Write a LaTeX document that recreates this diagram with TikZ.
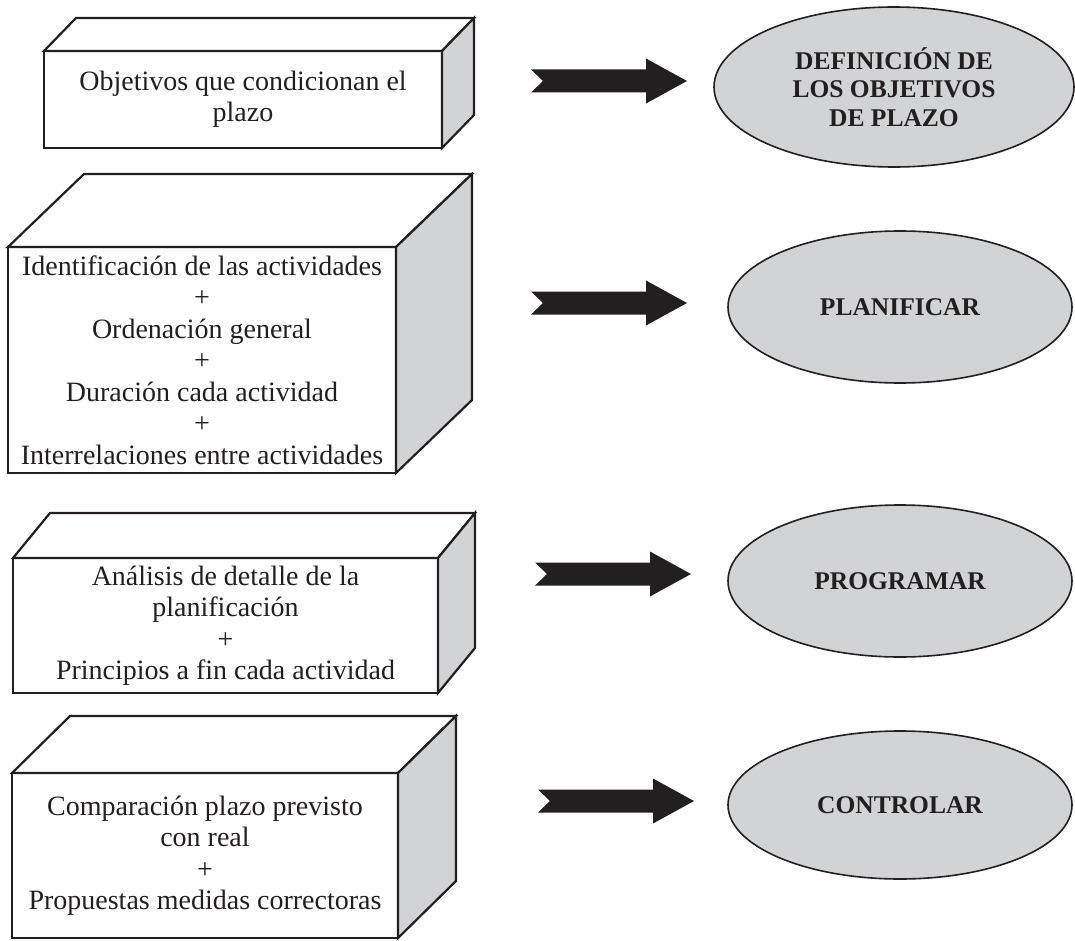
\documentclass[tikz,border=0pt]{standalone}
\usepackage{fontspec}
\setmainfont{Liberation Serif}
\usetikzlibrary{shapes.geometric}
\definecolor{facegray}{RGB}{209,211,212}
\definecolor{inkblack}{RGB}{35,31,32}

% a box drawn in perspective: front face (a node holding the text),
% white top face and grey right-hand face
% #1 name, #2 #3 centre of front face, #4 width, #5 height,
% #6 #7 depth offset (right, up), #8 text
\newcommand{\perspbox}[8]{%
  \node[front, minimum width=#4pt, minimum height=#5pt] (#1) at (#2,#3) {#8};
  \draw[edge, fill=white] (#1.north west) -- ++(#6,-#7) -- ++(#4,0) -- (#1.north east) -- cycle;
  \draw[edge, fill=facegray] (#1.north east) -- ++(#6,-#7) -- ++(0,#5) -- (#1.south east) -- cycle;
}

\begin{document}
\begin{tikzpicture}[x=1pt, y=-1pt,
  front/.style={draw=inkblack, line width=2.4pt, fill=white, inner sep=0pt,
    outer sep=0pt, align=center, text=inkblack,
    font=\fontsize{28}{31.5}\selectfont},
  edge/.style={draw=inkblack, line width=2.2pt, line join=miter},
  stage/.style={ellipse, draw=inkblack, line width=1.6pt, fill=facegray,
    inner sep=0pt, align=center, text=inkblack,
    font=\fontsize{25.5}{28.5}\selectfont\bfseries},
  blockarrow/.pic={\fill[inkblack] (0,-11.5) -- (115,-11.5) -- (115,-22.5)
    -- (156,0) -- (115,22.5) -- (115,11.5) -- (0,11.5) -- (12,0) -- cycle;}]
\useasboundingbox (0,0) rectangle (1075,941);

% left column: what each phase is built from
\perspbox{b1}{243}{99.5}{398}{97}{32}{33}{Objetivos que condicionan el\\plazo}
\perspbox{b2}{202}{360}{388}{226}{76}{73}{Identificación de las actividades\\+\\Ordenación general\\+\\Duración cada actividad\\+\\Interrelaciones entre actividades}
\perspbox{b3}{225.5}{625.5}{425}{135}{37}{45}{Análisis de detalle de la\\planificación\\+\\Principios a fin cada actividad}
\perspbox{b4}{205}{855.5}{386}{165}{58}{57}{Comparación plazo previsto\\con real\\+\\Propuestas medidas correctoras}

% right column: the phases
\node[stage, minimum width=360pt, minimum height=160pt] (e1) at (894,87) {DEFINICIÓN DE\\LOS OBJETIVOS\\DE PLAZO};
\node[stage, minimum width=344pt, minimum height=152pt] (e2) at (900,307) {PLANIFICAR};
\node[stage, minimum width=344pt, minimum height=152pt] (e3) at (900,581) {PROGRAMAR};
\node[stage, minimum width=344pt, minimum height=148pt] (e4) at (900,805) {CONTROLAR};

% block arrows between the columns
\pic at (531,81) {blockarrow};
\pic at (531,303) {blockarrow};
\pic at (535,574) {blockarrow};
\pic at (538,801) {blockarrow};
\end{tikzpicture}
\end{document}
